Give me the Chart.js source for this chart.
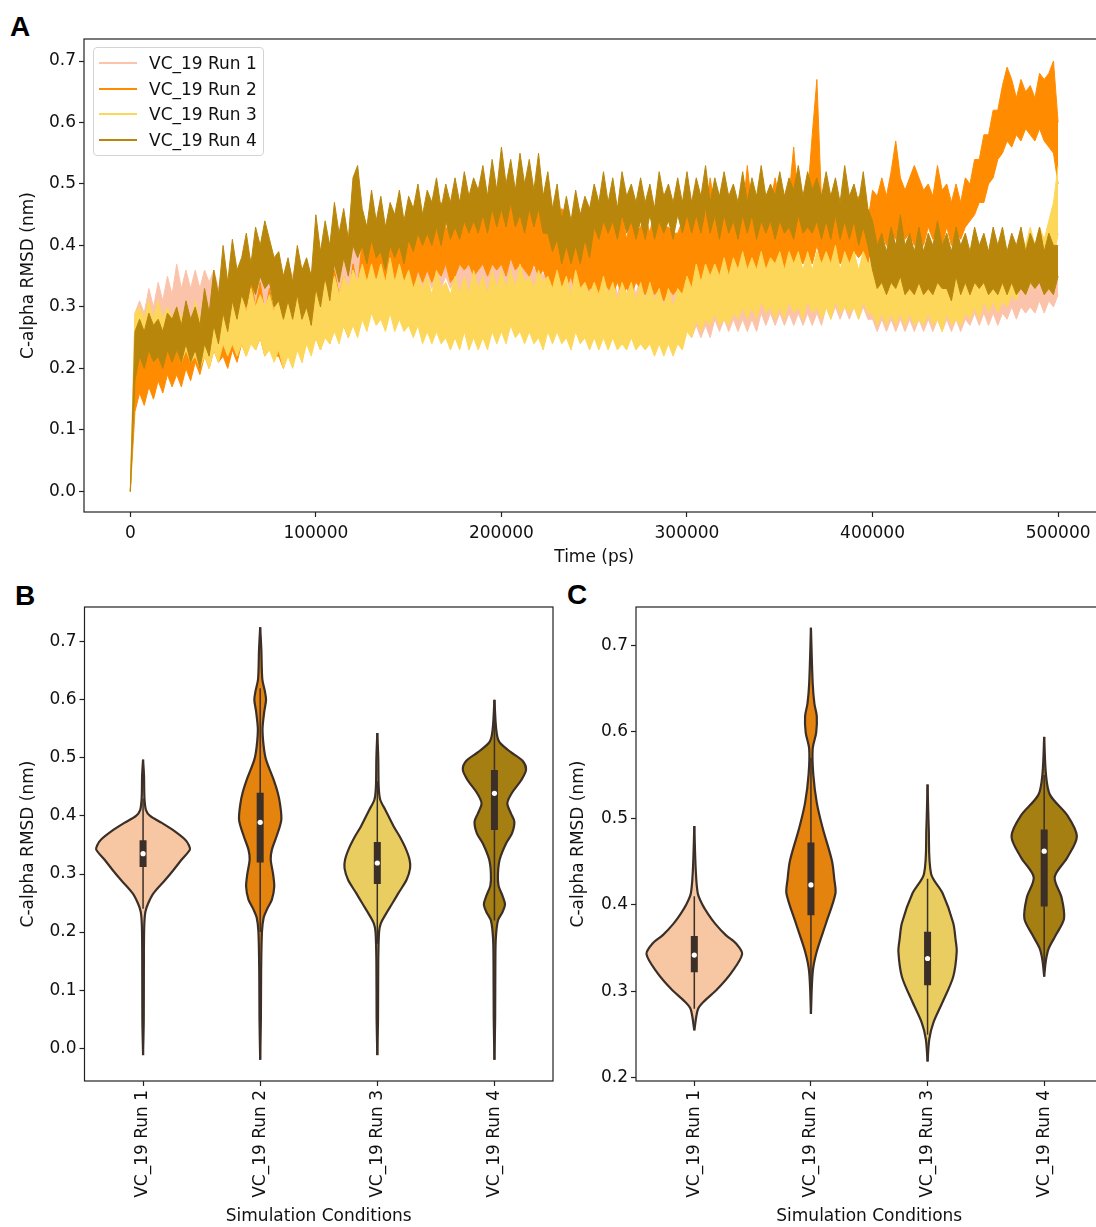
<!DOCTYPE html>
<html>
<head>
<meta charset="utf-8">
<script src="https://cdn.jsdelivr.net/npm/chart.js@4.4.1/dist/chart.umd.min.js"></script>
<style>
  html, body { margin: 0; padding: 0; background: #fff; }
  #fig { position: relative; width: 1096px; height: 1227px; overflow: hidden; background: #fff; }
  #fig canvas { position: absolute; }
  .tag { position: absolute; font: bold 28px "Liberation Sans", Arial, sans-serif; line-height: 1; color: #000; }
  #legend { position: absolute; left: 93px; top: 47px; width: 169px; height: 107px;
            border: 1px solid #d4d4d4; border-radius: 4px; background: rgba(255,255,255,0.85);
            font: 17px "DejaVu Sans", sans-serif; color: #111; }
  #legend .row { position: absolute; left: 5px; height: 20px; display: flex; align-items: center; white-space: nowrap; }
  #legend .swatch { display: inline-block; width: 38px; height: 2px; margin-right: 12px; }
</style>
</head>
<body>
<div id="fig">
  <div class="tag" style="left:10px;top:13px">A</div>
  <div class="tag" style="left:15px;top:582px">B</div>
  <div class="tag" style="left:567px;top:581px">C</div>
  <canvas id="rmsdTime" width="1110" height="569" style="left:0;top:0"></canvas>
  <div id="legend"></div>
  <canvas id="violinAll" width="560" height="651" style="left:0;top:580px"></canvas>
  <canvas id="violinLate" width="560" height="651" style="left:560px;top:580px"></canvas>
</div>
<script>
const categories = ['VC_19 Run 1', 'VC_19 Run 2', 'VC_19 Run 3', 'VC_19 Run 4'];

// C-alpha RMSD (nm) fluctuation band of each run: upper and lower edge,
// one pair every 2500 ps from 0 to 500000 ps
const run1High = [
  0.00,0.29,0.31,0.29,0.33,0.30,0.34,0.31,0.35,0.32, 0.37,0.33,0.36,0.33,0.36,0.33,0.36,0.34,0.36,0.33,
  0.36,0.34,0.37,0.34,0.38,0.35,0.38,0.35,0.36,0.34, 0.37,0.34,0.37,0.34,0.37,0.35,0.38,0.35,0.37,0.35,
  0.38,0.36,0.39,0.36,0.40,0.37,0.40,0.37,0.40,0.38, 0.41,0.39,0.42,0.39,0.43,0.40,0.43,0.40,0.41,0.39,
  0.42,0.40,0.43,0.40,0.42,0.40,0.42,0.40,0.42,0.39, 0.41,0.39,0.41,0.38,0.41,0.38,0.41,0.38,0.39,0.37,
  0.39,0.37,0.39,0.36,0.39,0.36,0.39,0.36,0.37,0.35, 0.37,0.35,0.37,0.34,0.37,0.34,0.37,0.34,0.35,0.33,
  0.35,0.33,0.35,0.33,0.35,0.32,0.35,0.32,0.35,0.32, 0.35,0.32,0.35,0.32,0.35,0.32,0.35,0.32,0.35,0.32,
  0.35,0.32,0.35,0.32,0.35,0.32,0.35,0.33,0.35,0.33, 0.35,0.33,0.35,0.33,0.35,0.33,0.37,0.34,0.37,0.34,
  0.36,0.34,0.36,0.34,0.36,0.34,0.36,0.34,0.36,0.34, 0.37,0.35,0.37,0.35,0.37,0.35,0.37,0.35,0.37,0.35,
  0.35,0.33,0.35,0.33,0.35,0.33,0.35,0.33,0.35,0.33, 0.35,0.33,0.35,0.33,0.35,0.33,0.35,0.33,0.35,0.33,
  0.36,0.33,0.36,0.33,0.36,0.34,0.36,0.34,0.36,0.34, 0.37,0.35,0.37,0.35,0.37,0.35,0.37,0.35,0.38,0.36,
  0.35
];
const run1Low = [
  0.00,0.23,0.25,0.24,0.26,0.25,0.27,0.25,0.28,0.26, 0.28,0.26,0.28,0.26,0.28,0.26,0.28,0.27,0.29,0.27,
  0.29,0.27,0.30,0.28,0.30,0.28,0.30,0.28,0.30,0.28, 0.30,0.28,0.30,0.28,0.30,0.28,0.31,0.29,0.31,0.29,
  0.32,0.30,0.32,0.30,0.33,0.31,0.33,0.31,0.34,0.32, 0.34,0.32,0.35,0.33,0.35,0.32,0.35,0.33,0.35,0.33,
  0.35,0.33,0.35,0.33,0.35,0.33,0.35,0.33,0.35,0.33, 0.34,0.32,0.34,0.32,0.34,0.32,0.34,0.32,0.33,0.31,
  0.33,0.31,0.32,0.30,0.32,0.30,0.32,0.30,0.31,0.29, 0.31,0.29,0.30,0.28,0.30,0.28,0.30,0.28,0.29,0.27,
  0.29,0.27,0.28,0.26,0.28,0.26,0.28,0.26,0.28,0.26, 0.28,0.26,0.27,0.25,0.27,0.25,0.27,0.25,0.27,0.25,
  0.27,0.25,0.27,0.25,0.27,0.25,0.28,0.26,0.28,0.26, 0.28,0.26,0.28,0.26,0.28,0.26,0.29,0.27,0.29,0.27,
  0.29,0.27,0.29,0.27,0.29,0.27,0.29,0.27,0.29,0.27, 0.30,0.28,0.30,0.28,0.30,0.28,0.30,0.28,0.30,0.28,
  0.28,0.26,0.28,0.26,0.28,0.26,0.28,0.26,0.28,0.26, 0.28,0.26,0.28,0.26,0.28,0.26,0.28,0.26,0.28,0.26,
  0.28,0.27,0.29,0.27,0.29,0.27,0.29,0.27,0.29,0.28, 0.30,0.28,0.30,0.29,0.30,0.29,0.31,0.29,0.31,0.30,
  0.32
];
const run2High = [
  0.00,0.21,0.22,0.20,0.24,0.21,0.26,0.22,0.26,0.23, 0.28,0.24,0.29,0.25,0.30,0.26,0.32,0.27,0.34,0.29,
  0.32,0.28,0.34,0.29,0.33,0.29,0.35,0.30,0.34,0.29, 0.33,0.29,0.32,0.28,0.33,0.29,0.32,0.28,0.34,0.30,
  0.33,0.30,0.35,0.31,0.36,0.32,0.35,0.31,0.37,0.33, 0.41,0.39,0.43,0.40,0.44,0.41,0.44,0.40,0.45,0.42,
  0.44,0.41,0.45,0.42,0.46,0.42,0.45,0.47,0.43,0.42, 0.45,0.43,0.45,0.44,0.46,0.43,0.47,0.44,0.48,0.45,
  0.47,0.44,0.49,0.45,0.48,0.44,0.47,0.46,0.47,0.44, 0.45,0.43,0.44,0.46,0.45,0.42,0.46,0.43,0.44,0.42,
  0.45,0.42,0.46,0.43,0.44,0.46,0.45,0.41,0.45,0.42, 0.43,0.45,0.42,0.46,0.44,0.43,0.43,0.42,0.42,0.44,
  0.45,0.42,0.46,0.48,0.45,0.51,0.46,0.43,0.47,0.44, 0.46,0.45,0.45,0.53,0.46,0.45,0.48,0.44,0.47,0.51,
  0.47,0.44,0.48,0.56,0.47,0.46,0.48,0.58,0.67,0.47, 0.47,0.46,0.46,0.45,0.48,0.45,0.46,0.48,0.47,0.44,
  0.49,0.48,0.51,0.48,0.52,0.57,0.51,0.49,0.51,0.53, 0.51,0.49,0.50,0.48,0.53,0.49,0.50,0.47,0.50,0.47,
  0.51,0.50,0.54,0.54,0.58,0.58,0.62,0.62,0.66,0.69, 0.67,0.64,0.67,0.65,0.66,0.64,0.68,0.67,0.68,0.70,
  0.60
];
const run2Low = [
  0.00,0.13,0.16,0.14,0.17,0.15,0.18,0.16,0.19,0.17, 0.19,0.17,0.20,0.18,0.21,0.19,0.22,0.20,0.23,0.21,
  0.22,0.20,0.23,0.21,0.24,0.22,0.25,0.23,0.25,0.22, 0.24,0.22,0.22,0.20,0.23,0.21,0.24,0.21,0.25,0.23,
  0.25,0.23,0.26,0.24,0.27,0.25,0.27,0.25,0.28,0.26, 0.32,0.34,0.33,0.35,0.33,0.34,0.35,0.33,0.35,0.34,
  0.35,0.33,0.36,0.34,0.36,0.34,0.36,0.35,0.37,0.34, 0.35,0.37,0.36,0.37,0.35,0.36,0.37,0.35,0.37,0.36,
  0.37,0.35,0.38,0.36,0.37,0.36,0.35,0.37,0.35,0.36, 0.34,0.33,0.34,0.32,0.33,0.35,0.32,0.33,0.31,0.33,
  0.33,0.32,0.34,0.33,0.32,0.34,0.32,0.33,0.32,0.34, 0.33,0.32,0.34,0.32,0.33,0.31,0.33,0.32,0.33,0.31,
  0.34,0.32,0.35,0.33,0.35,0.34,0.35,0.33,0.36,0.34, 0.35,0.34,0.36,0.35,0.37,0.35,0.36,0.34,0.37,0.36,
  0.37,0.35,0.38,0.36,0.38,0.37,0.39,0.37,0.40,0.37, 0.38,0.36,0.39,0.37,0.38,0.37,0.39,0.38,0.39,0.37,
  0.41,0.39,0.42,0.40,0.42,0.41,0.43,0.41,0.42,0.40, 0.42,0.40,0.43,0.41,0.42,0.40,0.43,0.40,0.42,0.41,
  0.43,0.44,0.45,0.47,0.47,0.50,0.51,0.54,0.55,0.57, 0.56,0.58,0.57,0.59,0.58,0.57,0.59,0.57,0.56,0.55,
  0.50
];
const run3High = [
  0.00,0.29,0.30,0.28,0.31,0.28,0.31,0.28,0.30,0.28, 0.30,0.28,0.30,0.27,0.31,0.28,0.29,0.27,0.30,0.31,
  0.32,0.29,0.33,0.30,0.32,0.29,0.33,0.30,0.32,0.30, 0.32,0.29,0.33,0.30,0.31,0.29,0.33,0.29,0.32,0.31,
  0.33,0.31,0.34,0.32,0.35,0.32,0.35,0.33,0.36,0.34, 0.37,0.34,0.37,0.34,0.37,0.34,0.38,0.34,0.37,0.34,
  0.36,0.33,0.35,0.33,0.35,0.32,0.36,0.33,0.34,0.32, 0.35,0.32,0.35,0.32,0.36,0.33,0.35,0.32,0.36,0.33,
  0.36,0.33,0.36,0.33,0.37,0.34,0.35,0.33,0.36,0.34, 0.35,0.33,0.36,0.33,0.35,0.32,0.36,0.33,0.34,0.32,
  0.34,0.32,0.35,0.32,0.34,0.31,0.34,0.32,0.34,0.31, 0.34,0.31,0.34,0.31,0.33,0.30,0.33,0.30,0.33,0.32,
  0.35,0.33,0.37,0.34,0.37,0.35,0.37,0.35,0.38,0.35, 0.38,0.36,0.39,0.36,0.38,0.36,0.39,0.36,0.38,0.37,
  0.39,0.36,0.39,0.37,0.39,0.36,0.39,0.36,0.39,0.37, 0.39,0.37,0.40,0.36,0.39,0.37,0.39,0.36,0.39,0.37,
  0.38,0.35,0.38,0.35,0.39,0.36,0.37,0.35,0.38,0.35, 0.37,0.35,0.38,0.35,0.37,0.35,0.38,0.35,0.37,0.35,
  0.38,0.36,0.38,0.36,0.40,0.37,0.40,0.37,0.40,0.38, 0.41,0.39,0.42,0.40,0.43,0.40,0.43,0.41,0.44,0.47,
  0.53
];
const run3Low = [
  0.00,0.21,0.23,0.21,0.24,0.21,0.23,0.21,0.23,0.22, 0.23,0.21,0.23,0.21,0.22,0.20,0.22,0.20,0.23,0.21,
  0.24,0.22,0.24,0.22,0.24,0.22,0.24,0.23,0.25,0.22, 0.23,0.21,0.23,0.20,0.22,0.20,0.23,0.21,0.24,0.22,
  0.25,0.23,0.25,0.24,0.26,0.24,0.27,0.25,0.27,0.25, 0.28,0.26,0.29,0.27,0.28,0.26,0.29,0.26,0.28,0.26,
  0.27,0.25,0.27,0.24,0.26,0.24,0.26,0.24,0.25,0.23, 0.25,0.23,0.26,0.23,0.25,0.23,0.25,0.23,0.26,0.24,
  0.26,0.24,0.27,0.25,0.26,0.24,0.26,0.24,0.25,0.23, 0.26,0.24,0.26,0.24,0.25,0.23,0.26,0.24,0.25,0.23,
  0.25,0.23,0.25,0.23,0.25,0.23,0.24,0.23,0.25,0.23, 0.24,0.23,0.24,0.22,0.24,0.22,0.24,0.22,0.24,0.23,
  0.26,0.25,0.28,0.26,0.28,0.27,0.29,0.27,0.28,0.27, 0.29,0.28,0.30,0.28,0.30,0.28,0.31,0.29,0.30,0.28,
  0.30,0.28,0.31,0.29,0.30,0.28,0.31,0.29,0.30,0.28, 0.30,0.28,0.31,0.29,0.30,0.29,0.30,0.28,0.31,0.29,
  0.29,0.27,0.29,0.27,0.29,0.27,0.29,0.27,0.29,0.27, 0.28,0.27,0.29,0.27,0.28,0.26,0.29,0.27,0.28,0.27,
  0.29,0.28,0.30,0.28,0.31,0.29,0.31,0.29,0.31,0.30, 0.32,0.31,0.34,0.32,0.34,0.33,0.35,0.33,0.36,0.37,
  0.42
];
const run4High = [
  0.00,0.26,0.28,0.26,0.29,0.27,0.28,0.26,0.29,0.28, 0.30,0.27,0.31,0.28,0.30,0.27,0.33,0.29,0.36,0.32,
  0.40,0.34,0.41,0.36,0.38,0.42,0.37,0.43,0.40,0.44, 0.41,0.38,0.39,0.35,0.38,0.34,0.40,0.36,0.38,0.35,
  0.45,0.39,0.44,0.40,0.47,0.42,0.46,0.41,0.51,0.53, 0.46,0.43,0.49,0.44,0.48,0.43,0.47,0.45,0.49,0.44,
  0.48,0.46,0.50,0.45,0.49,0.47,0.51,0.46,0.50,0.47, 0.51,0.47,0.52,0.48,0.51,0.49,0.53,0.48,0.54,0.49,
  0.56,0.50,0.54,0.49,0.55,0.50,0.54,0.49,0.55,0.48, 0.52,0.46,0.50,0.44,0.48,0.44,0.49,0.45,0.48,0.46,
  0.50,0.47,0.52,0.47,0.51,0.46,0.52,0.48,0.50,0.47, 0.51,0.47,0.50,0.46,0.52,0.48,0.50,0.47,0.51,0.47,
  0.52,0.47,0.51,0.48,0.53,0.47,0.51,0.48,0.52,0.48, 0.50,0.47,0.52,0.47,0.51,0.48,0.53,0.48,0.50,0.48,
  0.52,0.48,0.51,0.49,0.53,0.48,0.52,0.49,0.51,0.48, 0.52,0.48,0.51,0.47,0.53,0.48,0.50,0.47,0.52,0.46,
  0.44,0.40,0.42,0.39,0.43,0.40,0.45,0.40,0.42,0.39, 0.43,0.39,0.42,0.40,0.44,0.40,0.42,0.39,0.43,0.40,
  0.42,0.39,0.43,0.40,0.42,0.39,0.43,0.40,0.43,0.39, 0.42,0.40,0.43,0.39,0.42,0.40,0.43,0.39,0.42,0.40,
  0.40
];
const run4Low = [
  0.00,0.18,0.22,0.20,0.23,0.21,0.22,0.20,0.23,0.21, 0.23,0.21,0.24,0.21,0.23,0.20,0.24,0.22,0.27,0.24,
  0.29,0.26,0.31,0.28,0.32,0.30,0.34,0.32,0.35,0.33, 0.34,0.30,0.31,0.28,0.31,0.28,0.32,0.28,0.30,0.27,
  0.33,0.30,0.35,0.31,0.37,0.34,0.38,0.35,0.40,0.38, 0.40,0.37,0.41,0.38,0.39,0.36,0.40,0.38,0.40,0.37,
  0.41,0.39,0.42,0.40,0.42,0.40,0.43,0.40,0.44,0.41, 0.43,0.41,0.44,0.42,0.44,0.42,0.45,0.42,0.46,0.43,
  0.46,0.43,0.47,0.43,0.45,0.42,0.46,0.43,0.46,0.42, 0.42,0.39,0.41,0.37,0.40,0.37,0.40,0.37,0.41,0.38,
  0.43,0.41,0.44,0.42,0.44,0.41,0.45,0.42,0.44,0.41, 0.44,0.41,0.45,0.41,0.44,0.42,0.44,0.41,0.45,0.42,
  0.45,0.42,0.45,0.42,0.46,0.42,0.45,0.41,0.45,0.42, 0.44,0.41,0.45,0.42,0.45,0.41,0.44,0.42,0.44,0.41,
  0.44,0.42,0.43,0.41,0.45,0.42,0.43,0.42,0.44,0.41, 0.44,0.41,0.45,0.41,0.44,0.41,0.44,0.40,0.43,0.40,
  0.36,0.33,0.34,0.32,0.34,0.33,0.35,0.32,0.33,0.32, 0.34,0.32,0.33,0.32,0.34,0.33,0.33,0.31,0.35,0.32,
  0.34,0.32,0.34,0.33,0.34,0.32,0.33,0.32,0.34,0.32, 0.34,0.32,0.33,0.32,0.34,0.33,0.34,0.32,0.33,0.32,
  0.35
];
const timeStep = 2500;

const timeTicks = [0, 100000, 200000, 300000, 400000, 500000];
const rmsdTicks = [0.0, 0.1, 0.2, 0.3, 0.4, 0.5, 0.6, 0.7];
const rmsdTicksLate = [0.2, 0.3, 0.4, 0.5, 0.6, 0.7];

// violin outlines: [RMSD, half width in category units], whole trajectory
const densityAll1 = [[-0.012,0],[0.05,0.006],[0.15,0.007],[0.21,0.01],[0.235,0.02],[0.25,0.045],[0.267,0.09],[0.29,0.19],[0.307,0.26],[0.325,0.33],[0.342,0.40],[0.35,0.39],[0.359,0.36],[0.375,0.26],[0.388,0.16],[0.40,0.06],[0.41,0.025],[0.43,0.012],[0.47,0.008],[0.497,0]];
const densityAll2 = [[-0.02,0],[0.05,0.006],[0.13,0.008],[0.20,0.015],[0.225,0.03],[0.24,0.06],[0.256,0.10],[0.278,0.12],[0.30,0.11],[0.325,0.09],[0.342,0.10],[0.365,0.14],[0.393,0.18],[0.42,0.17],[0.44,0.15],[0.465,0.11],[0.497,0.05],[0.52,0.03],[0.55,0.02],[0.58,0.035],[0.60,0.05],[0.615,0.04],[0.636,0.018],[0.686,0.01],[0.725,0]];
const densityAll3 = [[-0.012,0],[0.05,0.006],[0.15,0.008],[0.20,0.015],[0.215,0.03],[0.23,0.07],[0.25,0.13],[0.267,0.18],[0.29,0.25],[0.31,0.28],[0.325,0.275],[0.345,0.24],[0.365,0.19],[0.382,0.14],[0.41,0.07],[0.428,0.025],[0.45,0.012],[0.50,0.008],[0.543,0]];
const densityAll4 = [[-0.02,0],[0.05,0.006],[0.15,0.008],[0.19,0.012],[0.22,0.03],[0.235,0.07],[0.248,0.09],[0.262,0.07],[0.28,0.035],[0.30,0.03],[0.325,0.045],[0.353,0.10],[0.37,0.15],[0.39,0.17],[0.405,0.14],[0.422,0.11],[0.44,0.15],[0.462,0.23],[0.48,0.27],[0.495,0.24],[0.51,0.14],[0.528,0.04],[0.55,0.015],[0.60,0]];
const quartilesAll = [[0.312, 0.358], [0.32, 0.44], [0.283, 0.355], [0.376, 0.479]];
const mediansAll = [0.335, 0.389, 0.319, 0.439];
const whiskersAll = [[0.24, 0.43], [0.20, 0.62], [0.18, 0.46], [0.22, 0.60]];

// violin outlines after equilibration
const densityLate1 = [[0.255,0],[0.279,0.03],[0.288,0.08],[0.303,0.20],[0.322,0.32],[0.343,0.41],[0.355,0.36],[0.365,0.27],[0.378,0.18],[0.389,0.12],[0.40,0.07],[0.413,0.03],[0.441,0.012],[0.491,0]];
const densityLate2 = [[0.274,0],[0.322,0.015],[0.346,0.05],[0.379,0.13],[0.413,0.21],[0.43,0.20],[0.451,0.18],[0.489,0.10],[0.518,0.05],[0.551,0.02],[0.58,0.015],[0.599,0.045],[0.618,0.05],[0.632,0.03],[0.656,0.015],[0.72,0]];
const densityLate3 = [[0.219,0],[0.245,0.015],[0.264,0.05],[0.288,0.13],[0.317,0.22],[0.346,0.25],[0.36,0.24],[0.379,0.22],[0.413,0.13],[0.436,0.03],[0.489,0.01],[0.539,0]];
const densityLate4 = [[0.317,0],[0.336,0.015],[0.35,0.04],[0.365,0.10],[0.384,0.17],[0.408,0.15],[0.432,0.09],[0.455,0.20],[0.479,0.28],[0.503,0.20],[0.527,0.05],[0.551,0.015],[0.594,0]];
const quartilesLate = [[0.322, 0.364], [0.388, 0.472], [0.307, 0.369], [0.398, 0.487]];
const mediansLate = [0.342, 0.423, 0.338, 0.462];
const whiskersLate = [[0.28, 0.41], [0.30, 0.57], [0.25, 0.43], [0.33, 0.55]];

const lineColors = ['#fbc4aa', '#ff8c00', '#fdd75a', '#b8860b'];
const violinColors = ['#f6c7a2', '#e5830f', '#e9cd60', '#a67f12'];
const edgeColor = '#3b2f28';
const inkColor = '#222';

Chart.defaults.font.family = '"DejaVu Sans", sans-serif';
Chart.defaults.font.size = 17;
Chart.defaults.color = '#111';

// full box around the plot area, like matplotlib spines
const frame = {
  id: 'frame',
  afterDatasetsDraw(chart) {
    const { ctx, chartArea: a } = chart;
    ctx.save();
    ctx.strokeStyle = inkColor;
    ctx.lineWidth = 1.2;
    ctx.strokeRect(a.left, a.top, a.right - a.left, a.bottom - a.top);
    ctx.restore();
  }
};

const tickGrid = { display: true, drawOnChartArea: false, drawTicks: true, tickLength: 5, tickColor: inkColor, tickWidth: 1.2 };

function fixedTicks(values) {
  return scale => { scale.ticks = values.map(v => ({ value: v })); };
}

// legend sits in the upper left corner of panel A
const legendBox = document.getElementById('legend');
categories.forEach((name, i) => {
  const row = document.createElement('div');
  row.className = 'row';
  row.style.top = (4.7 + i * 25.8) + 'px';
  const sw = document.createElement('span');
  sw.className = 'swatch';
  sw.style.background = lineColors[i];
  row.appendChild(sw);
  row.appendChild(document.createTextNode(name));
  legendBox.appendChild(row);
});

// every run is its upper edge filled down to its lower edge; later runs sit on top
const bands = [[run1High, run1Low], [run2High, run2Low], [run3High, run3Low], [run4High, run4Low]];
const timeSets = [];
bands.forEach(([high, low], i) => {
  const common = { borderColor: lineColors[i], borderWidth: 1, borderJoinStyle: 'miter', pointRadius: 0, order: bands.length - i };
  timeSets.push(Object.assign({ label: categories[i], data: high.map((v, k) => ({ x: k * timeStep, y: v })),
                                fill: '+1', backgroundColor: lineColors[i] }, common));
  timeSets.push(Object.assign({ data: low.map((v, k) => ({ x: k * timeStep, y: v })), fill: false }, common));
});

new Chart(document.getElementById('rmsdTime'), {
  type: 'line',
  data: { datasets: timeSets },
  options: {
    responsive: false,
    animation: false,
    events: [],
    layout: { padding: { left: 14, top: 39, right: 5.5, bottom: 0 } },
    plugins: { legend: { display: false }, tooltip: { enabled: false } },
    scales: {
      x: {
        type: 'linear', min: -24960, max: 525000,
        afterBuildTicks: fixedTicks(timeTicks),
        afterFit: s => { s.height = 57; },
        ticks: { callback: v => String(v), maxRotation: 0, autoSkip: false, padding: 6 },
        grid: tickGrid,
        border: { display: false },
        title: { display: true, text: 'Time (ps)', padding: { top: 4, bottom: 1 } }
      },
      y: {
        type: 'linear', min: -0.0335, max: 0.7358,
        afterBuildTicks: fixedTicks(rmsdTicks),
        afterFit: s => { s.width = 70; },
        ticks: { callback: v => v.toFixed(1), padding: 3 },
        grid: tickGrid,
        border: { display: false },
        title: { display: true, text: 'C-alpha RMSD (nm)', padding: { top: 4, bottom: 4 } }
      }
    }
  },
  plugins: [frame]
});

// each violin is a right and a left outline filled between them, plus the inner box plot
function violinSets(densities, quartiles, medians, whiskers) {
  const sets = [];
  densities.forEach((profile, i) => {
    const edge = { borderColor: edgeColor, borderWidth: 2.2, pointRadius: 0, tension: 0.3, order: 3 };
    sets.push(Object.assign({ data: profile.map(([v, w]) => ({ x: i + w, y: v })), fill: '+1', backgroundColor: violinColors[i] }, edge));
    sets.push(Object.assign({ data: profile.map(([v, w]) => ({ x: i - w, y: v })), fill: false }, edge));
  });
  whiskers.forEach(([lo, hi], i) => sets.push({
    data: [{ x: i, y: lo }, { x: i, y: hi }], borderColor: edgeColor, borderWidth: 1.5, pointRadius: 0, order: 2
  }));
  quartiles.forEach(([q1, q3], i) => sets.push({
    data: [{ x: i, y: q1 }, { x: i, y: q3 }], borderColor: edgeColor, borderWidth: 7, borderCapStyle: 'butt', pointRadius: 0, order: 1
  }));
  sets.push({
    data: medians.map((m, i) => ({ x: i, y: m })), showLine: false,
    pointRadius: 2.6, pointBackgroundColor: '#fff', pointBorderWidth: 0, order: 0
  });
  return sets;
}

function violinChart(id, datasets, yMin, yMax, yTicks, padLeft, axisWidth, padRight) {
  return new Chart(document.getElementById(id), {
    type: 'line',
    data: { datasets },
    options: {
      indexAxis: 'y',
      responsive: false,
      animation: false,
      events: [],
      layout: { padding: { left: padLeft, top: 27, right: padRight, bottom: 0 } },
      plugins: { legend: { display: false }, tooltip: { enabled: false }, filler: { drawTime: 'beforeDatasetsDraw' } },
      scales: {
        x: {
          type: 'linear', min: -0.5, max: 3.5,
          afterBuildTicks: fixedTicks([0, 1, 2, 3]),
          afterFit: s => { s.height = 150; },
          ticks: { callback: v => categories[v], minRotation: 90, maxRotation: 90, autoSkip: false, padding: 4 },
          grid: tickGrid,
          border: { display: false },
          title: { display: true, text: 'Simulation Conditions', padding: { top: 4, bottom: 4 } }
        },
        y: {
          type: 'linear', min: yMin, max: yMax,
          afterBuildTicks: fixedTicks(yTicks),
          afterFit: s => { s.width = axisWidth; },
          ticks: { callback: v => v.toFixed(1), padding: 3 },
          grid: tickGrid,
          border: { display: false },
          title: { display: true, text: 'C-alpha RMSD (nm)', padding: { top: 4, bottom: 4 } }
        }
      }
    },
    plugins: [frame]
  });
}

violinChart('violinAll',
  violinSets([densityAll1, densityAll2, densityAll3, densityAll4], quartilesAll, mediansAll, whiskersAll),
  -0.0566, 0.760, rmsdTicks, 14, 70.5, 7);

violinChart('violinLate',
  violinSets([densityLate1, densityLate2, densityLate3, densityLate4], quartilesLate, mediansLate, whiskersLate),
  0.1965, 0.744, rmsdTicksLate, 4, 72, 17.5);
</script>
</body>
</html>
